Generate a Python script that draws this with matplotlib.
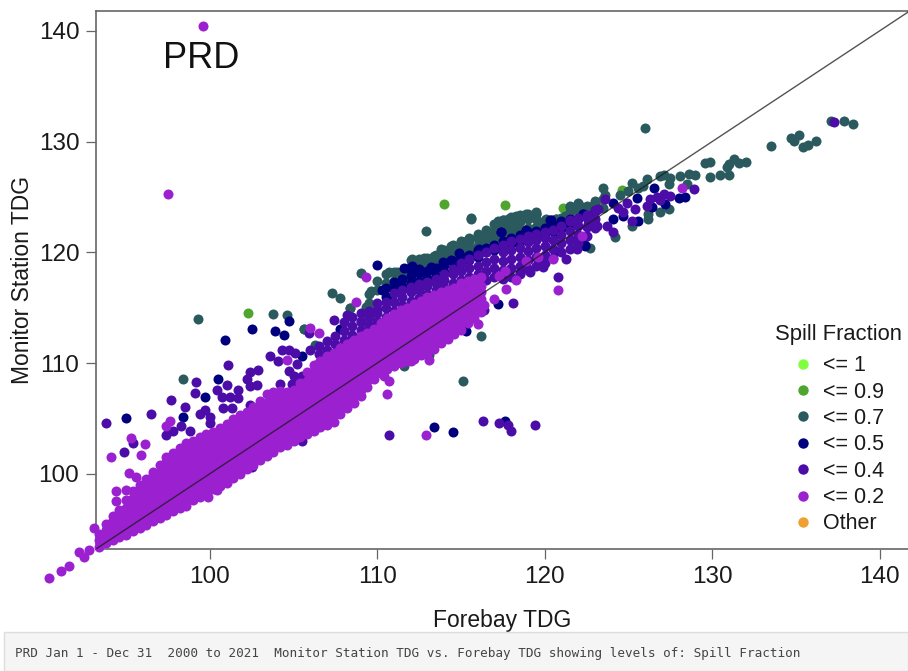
import matplotlib
matplotlib.use("Agg")
import matplotlib.pyplot as plt
from matplotlib.lines import Line2D
from matplotlib.patches import Rectangle

plt.rcParams['font.family'] = ['Liberation Sans', 'DejaVu Sans']

# values
ticks = [100, 110, 120, 130, 140]
legend_labels = ['<= 1', '<= 0.9', '<= 0.7', '<= 0.5', '<= 0.4', '<= 0.2', 'Other']
legend_colors = ['#7FFF3F', '#4FA62F', '#2A5A5E', '#00007F', '#4B0CA8', '#9A20D0', '#F0A030']

green_x = [114.0, 117.6, 102.3, 121.1, 124.6, 118.5, 111.1]
green_y = [124.4, 124.3, 114.5, 124.0, 125.6, 122.7, 117.7]

teal_x = [126.0, 137.1, 137.9, 138.4, 135.2, 134.7, 134.9, 135.4, 135.7, 136.2, 133.5, 132.0, 131.6, 131.3, 131.0,
          130.9, 131.0, 130.5, 129.9, 129.9, 129.6, 129.0, 128.6, 128.5, 128.1, 127.5, 127.1, 126.9, 127.4, 126.1,
          125.2, 125.9, 125.6, 123.5, 123.6, 125.0, 124.5, 123.0, 122.0, 121.5, 122.5, 123.1, 126.9, 127.4, 126.2,
          126.2, 125.2, 124.2, 122.7, 121.8, 121.6, 115.6, 119.5, 119.1, 118.7, 118.3, 117.9, 117.5, 117.2, 117.1,
          117.8, 118.1, 118.4, 117.9, 118.4, 116.7, 116.7, 116.0, 116.1, 115.4, 115.5, 114.5, 114.4, 120.1, 120.7,
          119.7, 120.3, 120.9, 121.2, 121.3, 109.0, 107.3, 107.8, 108.4, 109.4, 109.6, 112.9, 115.6, 116.2, 105.6,
          110.7, 111.2, 111.6, 112.1, 112.8, 113.4, 113.8, 114.4, 115.4, 116.0, 116.7, 117.3, 117.8, 118.3, 118.9,
          119.5, 112.6, 112.3, 113.4, 113.9, 114.7, 115.3, 115.7, 116.7, 117.7, 118.3, 120.1, 120.7, 122.1, 123.0,
          99.3, 103.8, 104.6, 105.6, 106.3, 98.4, 108.4, 109.3, 111.6, 113.1, 113.3, 115.1]
teal_y = [131.2, 131.9, 131.9, 131.6, 130.6, 130.3, 130.1, 129.5, 129.7, 130.1, 129.6, 128.2, 128.1, 128.4, 128.0,
          127.7, 127.0, 127.0, 126.8, 128.2, 128.1, 127.0, 127.1, 126.2, 126.9, 126.7, 127.0, 126.9, 126.2, 126.6,
          126.3, 126.0, 125.8, 125.8, 125.2, 125.5, 125.2, 124.6, 124.5, 124.1, 124.1, 123.9, 123.6, 123.9, 123.0,
          123.5, 122.4, 121.4, 120.4, 120.5, 121.1, 123.1, 123.6, 123.3, 123.3, 123.2, 123.0, 122.9, 122.8, 122.4,
          122.4, 122.1, 122.4, 121.7, 121.4, 121.8, 121.2, 121.5, 120.9, 121.1, 120.5, 120.6, 120.0, 123.0, 123.0,
          122.4, 122.4, 122.7, 123.3, 122.3, 118.1, 116.3, 115.9, 115.0, 115.1, 116.5, 121.9, 123.0, 112.4, 113.1,
          118.2, 118.2, 117.8, 119.4, 119.5, 119.7, 120.3, 120.6, 121.1, 121.5, 121.7, 122.6, 123.0, 123.3, 123.5,
          123.5, 118.7, 119.0, 119.3, 119.6, 120.3, 120.6, 120.3, 121.1, 122.0, 122.3, 122.9, 123.0, 124.2, 124.5,
          114.0, 114.4, 114.3, 113.1, 111.6, 108.6, 115.0, 115.1, 109.7, 110.7, 111.6, 108.4]

# dense part of the <= 0.7 level, one list of y per forebay value
teal_band_x = [109.5, 110.0, 110.5, 111.0, 111.5, 112.0, 112.5, 113.0, 113.5, 114.0, 114.5, 115.0, 115.5, 116.0, 116.5,
               117.0, 117.5, 118.0, 118.5, 119.0, 119.5, 120.0, 120.5, 121.0, 121.5, 122.0, 122.5, 123.0, 123.5]
teal_band_y = [[115.4, 116.2], [116.6, 117.4], [117.2, 118.0], [117.4, 118.2], [117.5, 118.2], [118.0, 118.8, 119.3],
               [118.2, 119.0, 119.4], [118.5, 119.2, 119.5], [118.8, 119.4, 119.8], [119.2, 119.9, 120.2],
               [119.6, 120.3, 120.7], [120.0, 120.7, 121.0], [120.3, 121.0, 121.3], [120.6, 121.3, 121.7],
               [120.9, 121.6, 122.0], [121.2, 121.9, 122.6], [121.5, 122.3, 122.9], [121.8, 122.6, 123.2],
               [122.0, 122.8, 123.4], [122.2, 123.0, 123.5], [122.3, 123.0, 123.5], [122.2, 122.9], [122.2, 122.9],
               [122.4, 123.1], [122.8, 123.6, 124.2], [123.1, 123.8, 124.4], [123.5, 124.2], [123.7, 124.5], [124.0, 124.8]]

navy_x = [95.0, 97.9, 98.4, 99.7, 100.5, 100.9, 102.5, 103.9, 104.4, 104.7, 105.5, 107.8, 113.4, 114.5, 117.6,
          110.0, 111.6, 112.05, 113.2, 113.35, 112.95, 111.4, 112.25, 110.6, 110.3, 114.4, 114.9, 116.0, 115.4, 117.4,
          117.8, 118.9, 120.3, 122.3, 120.6, 122.4, 117.2, 115.3, 113.95, 118.3, 120.9, 126.5, 125.5, 124.1, 124.1,
          124.7, 125.6, 126.4, 128.0, 128.4, 127.2, 122.3, 122.4, 120.6, 120.4, 118.9, 117.8, 117.4, 118.5, 116.1]
navy_y = [105.0, 101.0, 105.1, 106.9, 108.6, 112.1, 113.1, 112.9, 112.5, 113.8, 110.6, 113.1, 104.2, 103.8, 104.8,
          118.9, 118.6, 118.8, 118.7, 118.4, 117.7, 116.9, 116.9, 116.0, 116.6, 119.3, 119.9, 120.2, 119.7, 121.8,
          120.5, 121.8, 122.9, 123.5, 120.1, 120.6, 115.3, 112.9, 119.1, 120.9, 121.7, 125.8, 124.9, 124.5, 123.0,
          123.3, 122.8, 124.1, 124.9, 125.0, 124.4, 123.5, 120.7, 120.1, 122.95, 122.0, 120.6, 121.8, 118.1, 120.3]

# dense part of the <= 0.5 level
navy_band_x = [110.5, 111.0, 111.5, 112.0, 112.5, 113.0, 113.5, 114.0, 114.5, 115.0, 115.5, 116.0, 116.5, 117.0, 117.5,
               118.0, 118.5, 119.0, 119.5, 120.0, 120.5, 121.0, 121.5, 122.0, 122.5, 123.0]
navy_band_y = [[116.0, 116.8], [116.7, 117.3], [117.0, 117.6], [117.2, 117.9, 118.4], [117.4, 118.1, 118.5],
               [117.6, 118.3], [117.9, 118.6], [118.2, 118.9], [118.6, 119.2], [119.0, 119.6], [119.3, 119.8],
               [119.6, 120.1], [120.0, 120.4], [120.2, 120.7], [120.5, 121.0], [120.8, 121.3], [121.0, 121.6],
               [121.2, 121.8], [121.4, 121.9], [121.6, 122.2], [121.9, 122.5], [122.2, 122.8], [122.6, 123.0],
               [123.0], [123.3], [123.7]]

# scattered points of the <= 0.4 level
purple_x = [93.8, 96.5, 97.7, 98.5, 99.2, 99.1, 99.4, 99.7, 100.0, 100.0, 98.3, 97.8, 97.4, 98.8, 95.4, 94.9,
            100.4, 101.0, 100.7, 101.2, 100.8, 101.3, 101.7, 101.7, 101.1, 102.2, 102.4, 102.9, 102.4, 102.8, 102.4,
            103.6, 104.1, 104.3, 104.7, 105.1, 105.2, 104.7, 105.0, 105.5, 104.2, 104.9, 106.0, 105.9, 107.4, 108.2,
            109.0, 110.0, 105.5, 102.5, 110.7, 116.3, 117.3, 117.8, 118.0, 119.4, 128.9, 127.1, 126.7, 126.3, 127.5,
            126.1, 126.9, 125.4, 124.9, 125.2, 124.1, 123.6, 123.2, 123.7, 123.1, 122.6, 121.9, 121.5, 121.9, 121.3,
            120.8, 118.1, 137.3, 115.6, 116.4, 119.1, 119.9, 119.6, 124.4, 124.7]
purple_y = [104.6, 105.4, 106.7, 106.0, 108.3, 107.3, 105.4, 105.8, 105.1, 104.6, 104.3, 103.9, 103.5, 103.9, 102.8, 102.0,
            107.6, 108.0, 106.9, 106.9, 105.9, 105.9, 107.6, 106.8, 109.8, 108.6, 109.2, 109.4, 107.9, 108.0, 106.2,
            110.6, 110.2, 111.2, 111.2, 110.9, 109.9, 109.3, 108.8, 108.8, 108.1, 108.1, 111.2, 112.7, 113.9, 114.3,
            113.7, 115.4, 103.0, 100.6, 103.5, 104.8, 104.6, 104.4, 103.9, 104.4, 125.7, 125.3, 125.0, 124.8, 125.1,
            124.2, 124.7, 123.9, 124.5, 122.8, 121.8, 124.8, 123.9, 122.4, 122.4, 122.6, 122.6, 122.9, 120.3, 119.4,
            117.8, 115.4, 131.8, 114.3, 114.8, 118.2, 118.7, 119.3, 124.0, 123.6]

# dense part of the <= 0.4 level
purple_band_x = [106.5, 107.0, 107.5, 108.0, 108.5, 109.0, 109.5, 110.0, 110.5, 111.0, 111.5, 112.0, 112.5, 113.0,
                 113.5, 114.0, 114.5, 115.0, 115.5, 116.0, 116.5, 117.0, 117.5, 118.0, 118.5, 119.0, 119.5, 120.0,
                 120.5, 121.0, 121.5, 122.0, 122.5, 123.0]
purple_band_y = [[110.0, 110.8, 111.5], [110.4, 111.2, 112.0], [110.9, 111.7, 112.4], [111.3, 112.1, 112.9, 113.7],
                 [111.7, 112.5, 113.3, 114.2], [112.2, 113.0, 113.8, 114.5], [112.6, 113.4, 114.2, 114.7],
                 [113.0, 113.8, 114.5, 114.9], [113.4, 114.2, 115.0, 115.5], [113.9, 114.7, 115.5, 116.3],
                 [114.4, 115.2, 116.0, 116.6], [114.8, 115.6, 116.4, 116.9], [115.1, 115.9, 116.6, 117.1],
                 [115.4, 116.2, 117.0, 117.3], [115.8, 116.6, 117.2, 117.6], [116.1, 116.9, 117.5, 118.0],
                 [116.4, 117.2, 118.0, 118.5], [116.7, 117.5, 118.3, 119.0], [117.0, 117.8, 118.6, 119.4],
                 [117.2, 118.0, 118.8, 119.8], [117.5, 118.3, 119.1, 120.0], [117.8, 118.6, 119.4, 120.4],
                 [117.6, 118.4, 119.2, 120.0, 120.7], [117.8, 118.6, 119.4, 120.2, 121.0],
                 [118.0, 118.8, 119.6, 120.4, 121.2], [118.5, 119.3, 120.1, 120.9, 121.5], [118.8, 119.6, 120.4, 121.1, 121.7],
                 [119.0, 119.8, 120.6, 121.3, 121.8], [119.5, 120.3, 121.1, 122.0], [120.0, 120.8, 121.6, 122.4],
                 [120.3, 121.1, 121.9, 122.8], [120.8, 121.6, 122.4, 123.1], [121.5, 122.3, 123.1, 123.4], [122.2, 123.0, 123.8]]

# scattered points of the <= 0.2 level
magenta_x = [99.6, 97.5, 90.4, 91.1, 91.6, 92.2, 92.5, 92.8, 93.1, 94.1, 94.4, 95.3, 96.1, 95.2, 95.6, 95.9, 97.4, 97.6,
             94.4, 95.0, 112.9, 110.6, 110.7, 113.1, 104.6, 106.0, 106.5, 108.7, 109.3, 100.4, 99.9, 120.8, 120.5, 122.2,
             128.2, 116.0, 117.3, 117.6, 118.3, 117.7, 117.0, 116.4, 115.8, 118.9, 119.6, 114.9, 110.4, 112.0]
magenta_y = [140.4, 125.3, 90.6, 91.2, 91.7, 92.9, 92.5, 93.1, 95.1, 101.5, 98.4, 103.2, 102.7, 100.1, 99.7, 101.7, 104.3, 104.8,
             97.5, 98.5, 103.5, 107.2, 108.4, 110.3, 110.3, 113.2, 112.7, 115.5, 117.8, 98.5, 97.9, 116.6, 119.4, 121.5,
             125.8, 113.5, 117.9, 118.3, 117.5, 116.7, 115.8, 115.2, 114.6, 119.2, 119.6, 113.3, 108.8, 110.2]

# dense part of the <= 0.2 level
magenta_band_x = [93.4, 93.8, 94.2, 94.6, 95.0, 95.4, 95.8, 96.2, 96.6, 97.0, 97.4, 97.8, 98.2, 98.6, 99.0, 99.4, 99.8,
                  100.2, 100.6, 101.0, 101.4, 101.8, 102.2, 102.6, 103.0, 103.4, 103.8, 104.2, 104.6, 105.0, 105.4,
                  105.8, 106.2, 106.6, 107.0, 107.4, 107.8, 108.2, 108.6, 109.0, 109.4, 109.8, 110.2, 110.6, 111.0,
                  111.4, 111.8, 112.2, 112.6, 113.0, 113.4, 113.8, 114.2, 114.6, 115.0, 115.4, 115.8, 116.2]
magenta_band_y = [[93.4, 94.0, 94.6], [93.7, 94.3, 94.9, 95.5], [94.0, 94.6, 95.2, 95.8, 96.2], [94.3, 94.9, 95.5, 96.1, 96.7],
    [94.5, 95.1, 95.7, 96.3, 96.9, 97.6], [94.8, 95.4, 96.0, 96.6, 97.2, 97.8, 98.4], [95.1, 95.7, 96.3, 96.9, 97.5, 98.1, 98.7, 99.0],
    [95.4, 96.0, 96.6, 97.2, 97.8, 98.4, 99.0, 99.5], [95.7, 96.3, 96.9, 97.5, 98.1, 98.7, 99.3, 99.9, 100.2],
    [96.0, 96.6, 97.2, 97.8, 98.4, 99.0, 99.6, 100.2, 100.8], [96.3, 96.9, 97.5, 98.1, 98.7, 99.3, 99.9, 100.5, 101.1, 101.5],
    [96.6, 97.2, 97.8, 98.4, 99.0, 99.6, 100.2, 100.8, 101.4, 101.9], [96.9, 97.5, 98.1, 98.7, 99.3, 99.9, 100.5, 101.1, 101.7, 102.3],
    [97.1, 97.7, 98.3, 98.9, 99.5, 100.1, 100.7, 101.3, 101.9, 102.5, 102.8], [97.6, 98.2, 98.8, 99.4, 100.0, 100.6, 101.2, 101.8, 102.4, 103.0],
    [97.9, 98.5, 99.1, 99.7, 100.3, 100.9, 101.5, 102.1, 102.7, 103.3], [98.2, 98.8, 99.4, 100.0, 100.6, 101.2, 101.8, 102.4, 103.0, 103.6],
    [98.6, 99.2, 99.8, 100.4, 101.0, 101.6, 102.2, 102.8, 103.4, 103.8], [98.9, 99.5, 100.1, 100.7, 101.3, 101.9, 102.5, 103.1, 103.7, 104.1],
    [99.2, 99.8, 100.4, 101.0, 101.6, 102.2, 102.8, 103.4, 104.0, 104.5], [99.6, 100.2, 100.8, 101.4, 102.0, 102.6, 103.2, 103.8, 104.4, 104.9],
    [100.0, 100.6, 101.2, 101.8, 102.4, 103.0, 103.6, 104.2, 104.8, 105.3], [100.4, 101.0, 101.6, 102.2, 102.8, 103.4, 104.0, 104.6, 105.2, 105.6],
    [100.8, 101.4, 102.0, 102.6, 103.2, 103.8, 104.4, 105.0, 105.6, 106.0], [101.2, 101.8, 102.4, 103.0, 103.6, 104.2, 104.8, 105.4, 106.0, 106.6],
    [101.6, 102.2, 102.8, 103.4, 104.0, 104.6, 105.2, 105.8, 106.4, 107.2], [102.0, 102.6, 103.2, 103.8, 104.4, 105.0, 105.6, 106.2, 106.8, 107.4],
    [102.4, 103.0, 103.6, 104.2, 104.8, 105.4, 106.0, 106.6, 107.2, 107.5], [102.6, 103.2, 103.8, 104.4, 105.0, 105.6, 106.2, 106.8, 107.4],
    [103.0, 103.6, 104.2, 104.8, 105.4, 106.0, 106.6, 107.2, 107.6], [103.3, 103.9, 104.5, 105.1, 105.7, 106.3, 106.9, 107.5, 108.2],
    [103.6, 104.2, 104.8, 105.4, 106.0, 106.6, 107.2, 107.8, 108.4, 109.2], [103.9, 104.5, 105.1, 105.7, 106.3, 106.9, 107.5, 108.1, 108.7, 109.3, 109.8],
    [104.2, 104.8, 105.4, 106.0, 106.6, 107.2, 107.8, 108.4, 109.0, 109.6, 110.2], [104.4, 105.0, 105.6, 106.2, 106.8, 107.4, 108.0, 108.6, 109.2, 109.8, 110.6],
    [104.7, 105.3, 105.9, 106.5, 107.1, 107.7, 108.3, 108.9, 109.5, 110.1, 110.9], [105.4, 106.0, 106.6, 107.2, 107.8, 108.4, 109.0, 109.6, 110.2, 110.8, 111.4],
    [105.9, 106.5, 107.1, 107.7, 108.3, 108.9, 109.5, 110.1, 110.7, 111.3, 111.7], [106.4, 107.0, 107.6, 108.2, 108.8, 109.4, 110.0, 110.6, 111.2, 111.8, 112.1],
    [107.0, 107.6, 108.2, 108.8, 109.4, 110.0, 110.6, 111.2, 111.8, 112.4], [107.8, 108.4, 109.0, 109.6, 110.2, 110.8, 111.4, 112.0, 112.7],
    [108.6, 109.2, 109.8, 110.4, 111.0, 111.6, 112.2, 112.8, 113.1], [109.1, 109.7, 110.3, 110.9, 111.5, 112.1, 112.7, 113.3, 113.6],
    [109.5, 110.1, 110.7, 111.3, 111.9, 112.5, 113.1, 113.7, 114.1], [109.7, 110.3, 110.9, 111.5, 112.1, 112.7, 113.3, 113.9, 114.4],
    [110.0, 110.6, 111.2, 111.8, 112.4, 113.0, 113.6, 114.2, 114.8], [110.2, 110.8, 111.4, 112.0, 112.6, 113.2, 113.8, 114.4, 115.0],
    [110.4, 111.0, 111.6, 112.2, 112.8, 113.4, 114.0, 114.6, 115.3], [110.7, 111.3, 111.9, 112.5, 113.1, 113.7, 114.3, 114.9, 115.6],
    [110.9, 111.5, 112.1, 112.7, 113.3, 113.9, 114.5, 115.1, 115.7, 116.0], [111.3, 111.9, 112.5, 113.1, 113.7, 114.3, 114.9, 115.5, 116.1],
    [111.8, 112.4, 113.0, 113.6, 114.2, 114.8, 115.4, 116.0, 116.4], [112.2, 112.8, 113.4, 114.0, 114.6, 115.2, 115.8, 116.4, 116.6],
    [112.6, 113.2, 113.8, 114.4, 115.0, 115.6, 116.2, 116.8], [113.0, 113.6, 114.2, 114.8, 115.4, 116.0, 116.6, 117.2],
    [113.6, 114.2, 114.8, 115.4, 116.0, 116.6, 117.4], [114.1, 114.7, 115.3, 115.9, 116.5, 117.1, 117.6], [114.6, 115.2, 115.8, 116.4, 117.0, 117.8]]


def flatten_band(band_x, band_y):
    xs = []
    ys = []
    for x, col in zip(band_x, band_y):
        for y in col:
            xs.append(x)
            ys.append(y)
    return xs, ys


fig = plt.figure(figsize=(9.08, 6.71), dpi=100)
ax = fig.add_axes([96 / 908, (671 - 549) / 671, 812 / 908, 538 / 671])
ax.set_xlim(93.2, 141.7)
ax.set_ylim(93.2, 141.8)

point_size = 52
teal_bx, teal_by = flatten_band(teal_band_x, teal_band_y)
navy_bx, navy_by = flatten_band(navy_band_x, navy_band_y)
purple_bx, purple_by = flatten_band(purple_band_x, purple_band_y)
magenta_bx, magenta_by = flatten_band(magenta_band_x, magenta_band_y)

ax.scatter(green_x, green_y, s=point_size, c=legend_colors[1], linewidths=0, clip_on=False, zorder=2)
ax.scatter(teal_x + teal_bx, teal_y + teal_by, s=point_size, c=legend_colors[2], linewidths=0, clip_on=False, zorder=3)
ax.scatter(navy_x + navy_bx, navy_y + navy_by, s=point_size, c=legend_colors[3], linewidths=0, clip_on=False, zorder=4)
ax.scatter(purple_x + purple_bx, purple_y + purple_by, s=point_size, c=legend_colors[4], linewidths=0, clip_on=False, zorder=5)
ax.scatter(magenta_x + magenta_bx, magenta_y + magenta_by, s=point_size, c=legend_colors[5], linewidths=0, clip_on=False, zorder=6)

ax.plot([93.2, 141.8], [93.2, 141.8], color='#1a1a1a', lw=1, alpha=0.75, zorder=7)

ax.set_xticks(ticks)
ax.set_yticks(ticks)
ax.tick_params(axis='both', length=7, width=0.9, color='#666666', labelsize=17.5, labelcolor='#1a1a1a')
ax.tick_params(axis='x', pad=5)
ax.tick_params(axis='y', pad=5)
for side in ['left', 'bottom', 'top']:
    ax.spines[side].set_color('#666666')
    ax.spines[side].set_linewidth(1.2)
ax.spines['right'].set_visible(False)

ax.set_xlabel('Forebay TDG', fontsize=16.5, color='#1a1a1a')
ax.xaxis.set_label_coords((502 - 96) / 812, -(620 - 549) / 538, transform=ax.transAxes)
ax.xaxis.label.set_va('center')
ax.set_ylabel('Monitor Station TDG', fontsize=16.5, color='#1a1a1a')
ax.yaxis.set_label_coords(-(96 - 23) / 812, (549 - 280) / 538, transform=ax.transAxes)
ax.yaxis.label.set_va('center')

ax.text(0.083, 0.894, 'PRD', transform=ax.transAxes, fontsize=26, color='#111111', ha='left', va='baseline', zorder=8)

handles = [Line2D([], [], linestyle='none', marker='o', markersize=7.5, markeredgewidth=0, color=c) for c in legend_colors]
leg = ax.legend(handles, legend_labels, title='Spill Fraction', frameon=False, fontsize=15.5, title_fontsize=15.8,
                loc='lower right', bbox_to_anchor=(1.011, -0.001), borderaxespad=0.3, labelspacing=0.25,
                handletextpad=0.45, handlelength=1.0, labelcolor='#1a1a1a')
leg.get_title().set_color('#1a1a1a')
leg._legend_box.sep = 7
leg.set_zorder(9)

# caption bar under the plot
fig.patches.append(Rectangle((4 / 908, 0), 904 / 908, 39 / 671, transform=fig.transFigure,
                             facecolor='#f5f5f5', edgecolor='#dddddd', lw=1, zorder=10))
fig.text(15 / 908, (671 - 653) / 671, 'PRD Jan 1 - Dec 31  2000 to 2021  Monitor Station TDG vs. Forebay TDG showing levels of: Spill Fraction',
         family='DejaVu Sans Mono', fontsize=9.08, color='#444444', va='center', ha='left', zorder=11)

fig.savefig('out.png', dpi=100)
